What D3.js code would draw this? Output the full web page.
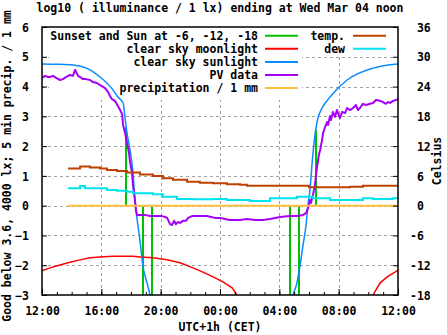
<!DOCTYPE html>
<html><head><meta charset="utf-8">
<script src="https://cdn.jsdelivr.net/npm/d3@7"></script>
<style>
body{margin:0;background:#fff}
text{font-family:"DejaVu Sans Mono",monospace;font-weight:bold;font-size:11.5px;fill:#000}
</style>
</head><body>
<svg id="chart" width="447" height="335"></svg>
<script>
// ---------- DATA (times "DD HH:MM", March 03 -> March 04) ----------
const titleText = "log10 ( illuminance / 1 lx) ending at Wed Mar 04 noon";
const yLabelText = "Good below 3.6, 4000 lx; 5 min precip. / 1 mm";
const y2LabelText = "Celsius";
const xLabelText = "UTC+1h (CET)";
const yTicks = [-3,-2,-1,0,1,2,3,4,5,6];
const y2Ticks = [-18,-12,-6,0,6,12,18,24,30,36];

// Sunset and Sun at -6, -12, -18 (impulses)
const sunEventTimes  = ["03 17:40","03 18:50","03 19:26","04 04:43","04 05:20","04 06:28"];
const sunEventValues = [2.64, -3, -3, -3, -3, 2.54];

// clear sky moonlight
const moonTimes  = ["03 12:00","03 12:32","03 13:13","03 13:53","03 14:34","03 15:14","03 15:55","03 16:47","03 18:08","03 18:36","03 19:29","03 20:26","03 21:18","03 22:11","03 22:51","03 23:32","04 00:12","04 00:49","04 01:09","04 01:25",
                    "04 05:00",
                    "04 10:00","04 10:19","04 10:47","04 11:16","04 11:56","04 12:00"];
const moonValues = [-2.19,-2.09,-1.99,-1.90,-1.82,-1.75,-1.72,-1.70,-1.70,-1.72,-1.75,-1.82,-1.92,-2.09,-2.23,-2.39,-2.56,-2.76,-3.0,-3.3,
                    null,
                    -3.3,-3.0,-2.6,-2.39,-2.19,-2.17];

// clear sky sunlight
const sunTimes  = ["03 12:00","03 13:00","03 14:05","03 15:14","03 15:55","03 16:47","03 17:07","03 17:28","03 17:36","03 17:44","03 17:56","03 18:08","03 18:16","03 18:24","03 18:36","03 18:49","03 19:05","03 19:17","03 19:30",
                   "04 04:40","04 04:55","04 05:11","04 05:24","04 05:36","04 05:48","04 05:56","04 06:04","04 06:12","04 06:24","04 06:36","04 06:53","04 07:25","04 08:34","04 10:19","04 12:00"];
const sunValues = [4.76,4.75,4.72,4.56,4.32,3.89,3.65,3.45,2.95,2.44,1.87,1.11,0.19,-0.41,-1.15,-2.06,-2.6,-3.0,-3.4,
                   -3.4,-3.0,-2.6,-2.0,-1.32,-0.65,0.02,0.52,1.37,2.37,2.94,3.28,3.65,4.22,4.62,4.76];

// PV data
const pvTimes = ["03 12:00","03 12:12","03 12:24","03 12:32","03 12:44","03 12:57","03 13:13","03 13:25","03 13:37","03 13:53","03 14:05","03 14:14","03 14:18","03 14:26","03 14:34","03 14:46","03 14:58","03 15:14","03 15:26","03 15:42","03 15:55","03 16:07","03 16:15","03 16:27","03 16:35","03 16:43","03 16:55","03 17:07","03 17:16","03 17:24","03 17:28","03 17:36","03 17:44","03 17:52","03 17:56","03 18:04","03 18:08","03 18:16","03 18:20","03 18:24","03 18:57","03 19:17","03 19:45","03 20:05","03 20:18","03 20:26","03 20:38","03 20:46","03 20:54","03 21:02","03 21:10","03 21:18","03 21:30","03 21:42","03 21:51","03 22:07","03 22:27","03 22:51","03 23:07","03 23:24","03 23:40",
  "04 00:00","04 00:20","04 00:40","04 01:21","04 01:49","04 02:22","04 02:54","04 03:22","04 04:03","04 04:43","04 05:11","04 05:36","04 05:48","04 05:56","04 06:04","04 06:08","04 06:16","04 06:24","04 06:32","04 06:40","04 06:45","04 06:53","04 06:57","04 07:05","04 07:13","04 07:17","04 07:25","04 07:29","04 07:37","04 07:45","04 07:53","04 08:05","04 08:14","04 08:26","04 08:34","04 08:46","04 08:58","04 09:10","04 09:18","04 09:26","04 09:38","04 09:51","04 10:07","04 10:19","04 10:31","04 10:47","04 10:59","04 11:11","04 11:20","04 11:28","04 11:40","04 11:52","04 12:00"];
const pvValues = [4.29,4.36,4.32,4.32,4.36,4.29,4.22,4.25,4.32,4.39,4.36,4.56,4.49,4.36,4.32,4.25,4.25,4.22,4.15,4.12,4.05,3.99,3.95,3.82,3.68,3.58,3.52,3.35,3.21,3.08,2.71,2.44,2.11,1.77,1.47,1.13,0.69,0.19,-0.14,-0.31,-0.31,-0.35,-0.35,-0.35,-0.38,-0.41,-0.62,-0.65,-0.51,-0.62,-0.55,-0.58,-0.51,-0.51,-0.41,-0.35,-0.35,-0.35,-0.35,-0.38,-0.41,
  -0.41,-0.45,-0.48,-0.48,-0.45,-0.48,-0.48,-0.45,-0.38,-0.35,-0.35,-0.31,-0.25,-0.08,0.19,0.09,0.36,0.70,1.27,1.70,1.87,2.21,2.44,2.64,2.81,2.71,3.01,2.88,3.15,2.98,3.21,2.94,3.15,3.11,3.28,3.21,3.28,3.38,3.21,3.28,3.42,3.38,3.42,3.45,3.55,3.52,3.48,3.42,3.48,3.45,3.52,3.55,3.58];

// precipitation / 1 mm
const precipTimes  = ["03 13:45","03 18:00","04 00:00","04 06:00","04 12:00"];
const precipValues = [0,0,0,0,0];

// temperature (Celsius)
const tempTimes  = ["03 13:45","03 14:20","03 14:34","03 15:14","03 15:55","03 16:23","03 17:03","03 17:44","03 18:36","03 19:29","03 20:09","03 20:50","03 21:47","03 22:39","03 23:32","04 00:28","04 01:21","04 01:49","04 03:22","04 05:11","04 06:00","04 06:45","04 08:46","04 09:38","04 11:40","04 12:00"];
const tempValues = [7.5,7.5,7.9,7.7,7.5,7.2,7.0,6.7,6.3,6.0,5.5,5.2,4.8,4.6,4.5,4.3,4.2,4.0,4.0,4.0,3.7,3.7,3.8,4.0,4.0,4.0];

// dew point (Celsius)
const dewTimes  = ["03 13:45","03 14:18","03 14:34","03 14:54","03 15:55","03 16:23","03 17:03","03 17:44","03 18:08","03 19:29","03 20:09","03 21:06","03 22:11","03 23:32","04 00:28","04 01:21","04 02:01","04 03:22","04 05:11","04 06:16","04 07:25","04 09:38","04 10:19","04 11:40","04 12:00"];
const dewValues = [3.5,3.5,3.97,3.5,3.5,3.16,3.02,2.82,2.5,2.3,1.81,1.35,1.29,1.35,1.15,1.15,0.95,1.49,1.81,1.49,1.15,1.49,1.35,1.49,1.49];

// ---------- CHART ----------
const parse = d3.timeParse("%Y-%m-%d %H:%M");
const toDate = s => parse("2020-03-" + s);
const zip = (ts, vs) => ts.map((t,i) => ({t: toDate(t), v: vs[i]}));

const svg = d3.select("#chart");
const L = 42, R = 398, T = 27, B = 295;

const x = d3.scaleTime().domain([toDate("03 12:00"), toDate("04 12:00")]).range([L, R]);
const y = d3.scaleLinear().domain([-3, 6]).range([B, T]);
const y2 = d3.scaleLinear().domain([-18, 36]).range([B, T]);

svg.append("clipPath").attr("id","clip").append("rect")
  .attr("x", L).attr("y", T).attr("width", R-L).attr("height", B-T);

// grid
const grid = svg.append("g").attr("stroke","#a0a0a0").attr("stroke-width",1).attr("stroke-dasharray","3,3");
const majorX = d3.timeHour.every(4).range(toDate("03 12:00"), toDate("04 12:01"));
majorX.forEach(d => {
  const px = Math.round(x(d)) + 0.5;
  if (px > L+1 && px < R-1) grid.append("line").attr("x1",px).attr("x2",px).attr("y1",T).attr("y2",B);
});
yTicks.forEach(v => {
  const py = Math.round(y(v)) + 0.5;
  if (py > T+1 && py < B-1) grid.append("line").attr("x1",L).attr("x2",R).attr("y1",py).attr("y2",py);
});

// opaque key background
svg.append("rect").attr("x",49).attr("y",28).attr("width",253).attr("height",72).attr("fill","#fff");
svg.append("rect").attr("x",302).attr("y",28).attr("width",95).attr("height",26).attr("fill","#fff");

const plot = svg.append("g").attr("clip-path","url(#clip)");
const line = (sc) => d3.line().defined(d => d.v !== null).x(d => x(d.t)).y(d => sc(d.v));

const colors = {sunset:"#00c000", moon:"#ff0000", sun:"#0a8aff", pv:"#a400f6", precip:"#ffc040", temp:"#c04000", dew:"#00e4f0"};

// impulses
zip(sunEventTimes, sunEventValues).forEach(d => {
  const px = Math.round(x(d.t)) + 0.0;
  plot.append("line").attr("x1",px).attr("x2",px).attr("y1",y(0)).attr("y2",y(d.v))
    .attr("stroke",colors.sunset).attr("stroke-width",2);
});
plot.append("path").datum(zip(moonTimes, moonValues)).attr("d", line(y))
  .attr("fill","none").attr("stroke",colors.moon).attr("stroke-width",1.5);
plot.append("path").datum(zip(sunTimes, sunValues)).attr("d", line(y).curve(d3.curveMonotoneX))
  .attr("fill","none").attr("stroke",colors.sun).attr("stroke-width",1.5);
plot.append("path").datum(zip(pvTimes, pvValues)).attr("d", line(y))
  .attr("fill","none").attr("stroke",colors.pv).attr("stroke-width",2).attr("stroke-linejoin","round");
plot.append("path").datum(zip(precipTimes, precipValues)).attr("d", line(y))
  .attr("fill","none").attr("stroke",colors.precip).attr("stroke-width",2);
plot.append("path").datum(zip(tempTimes, tempValues)).attr("d", line(y2).curve(d3.curveStepAfter))
  .attr("fill","none").attr("stroke",colors.temp).attr("stroke-width",2);
plot.append("path").datum(zip(dewTimes, dewValues)).attr("d", line(y2).curve(d3.curveStepAfter))
  .attr("fill","none").attr("stroke",colors.dew).attr("stroke-width",2);

// axes (ticks inward)
const axL = svg.append("g").attr("transform",`translate(${L},0)`)
  .call(d3.axisLeft(y).tickValues(yTicks).tickSize(-5).tickPadding(13).tickFormat(d3.format("d")));
const axR = svg.append("g").attr("transform",`translate(${R},0)`)
  .call(d3.axisRight(y2).tickValues(y2Ticks).tickSize(-5).tickPadding(12).tickFormat(d => (d < 0 ? "" : " ") + d));
axR.selectAll("text").style("white-space","pre");
const axBminor = svg.append("g").attr("transform",`translate(0,${B})`)
  .call(d3.axisBottom(x).ticks(d3.timeHour.every(1)).tickSize(-3).tickFormat(""));
const axB = svg.append("g").attr("transform",`translate(0,${B})`)
  .call(d3.axisBottom(x).ticks(d3.timeHour.every(4)).tickSize(-6).tickPadding(12).tickFormat(d3.timeFormat("%H:%M")));
[axL, axR, axB, axBminor].forEach(a => {
  a.select(".domain").remove();
  a.selectAll("line").attr("stroke","#000").attr("stroke-width",1);
  a.selectAll("text").attr("font-family",null).attr("font-size",null).style("font-family",'"DejaVu Sans Mono",monospace').style("font-size","11.5px").style("font-weight","bold");
});
axL.selectAll("text").attr("dy","0.36em");
axR.selectAll("text").attr("dy","0.36em");
axB.selectAll("text").attr("dy","0.71em");

// frame
svg.append("rect").attr("x",L).attr("y",T).attr("width",R-L).attr("height",B-T)
  .attr("fill","none").attr("stroke","#000").attr("stroke-width",1.5);

// titles
svg.append("text").attr("x",220).attr("y",12).attr("text-anchor","middle").text(titleText);
svg.append("text").attr("x",220).attr("y",331).attr("text-anchor","middle").text(xLabelText);
svg.append("text").attr("transform","translate(11,166) rotate(-90)").attr("text-anchor","middle").text(yLabelText);
svg.append("text").attr("transform","translate(441,161) rotate(-90)").attr("text-anchor","middle").text(y2LabelText);

// legend
const col1 = [
  {label:"Sunset and Sun at -6, -12, -18", c:colors.sunset},
  {label:"clear sky moonlight", c:colors.moon},
  {label:"clear sky sunlight", c:colors.sun},
  {label:"PV data", c:colors.pv},
  {label:"precipitation / 1 mm", c:colors.precip}];
const col2 = [
  {label:"temp.", c:colors.temp},
  {label:"dew", c:colors.dew}];
const rowY = i => 35.7 + i*13.1;
const leg = svg.append("g");
col1.forEach((e,i) => {
  leg.append("text").attr("x",258).attr("y",rowY(i)+4).attr("text-anchor","end").text(e.label);
  leg.append("line").attr("x1",265).attr("x2",298).attr("y1",rowY(i)).attr("y2",rowY(i)).attr("stroke",e.c).attr("stroke-width",2);
});
col2.forEach((e,i) => {
  leg.append("text").attr("x",345).attr("y",rowY(i)+4).attr("text-anchor","end").text(e.label);
  leg.append("line").attr("x1",353).attr("x2",386).attr("y1",rowY(i)).attr("y2",rowY(i)).attr("stroke",e.c).attr("stroke-width",2);
});
</script>
</body></html>
